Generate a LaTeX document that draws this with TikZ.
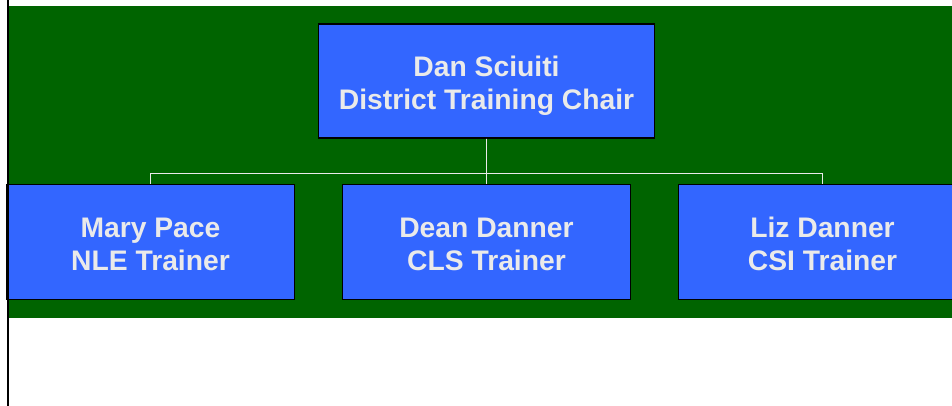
\documentclass[tikz,border=0pt]{standalone}
\usepackage{fontspec}
\setmainfont{Liberation Sans}
\usepackage{xcolor}
\usepackage{tikz}
\usetikzlibrary{positioning}

\definecolor{chartgreen}{HTML}{006400}
\definecolor{boxblue}{HTML}{3366FF}
\definecolor{boxtext}{HTML}{EAEAEA}

% extra head room on the first text line
\newcommand{\headroom}[1]{\rule{0pt}{#1}}

\begin{document}
\begin{tikzpicture}[
    x=0.75pt, y=0.75pt,
    every node/.style={draw=black, line width=1.1pt, fill=boxblue, text=boxtext, align=center,
      font=\fontsize{21.2}{25}\selectfont\bfseries},
    chairbox/.style={minimum width=252pt, minimum height=85.5pt},
    trainerbox/.style={minimum width=216pt, minimum height=86.25pt},
    level 1/.style={sibling distance=252pt},
    level distance=120.75pt,
    edge from parent/.style={draw=boxtext, line width=1pt},
    edge from parent path={(\tikzparentnode.south) -- ++(0,-34.5) -| (\tikzchildnode.north)}
  ]
  \useasboundingbox (0,0) rectangle (952,-406);
  \clip (0,0) rectangle (952,-406);

  % backdrop
  \fill[chartgreen] (9,-6) rectangle (952,-318);

  \node[chairbox] (chair) at (486.5,-81) {\headroom{22pt}Dan Sciuiti\\District Training Chair}
    child {node[trainerbox] (mary) {\headroom{18.5pt}Mary Pace\\NLE Trainer}}
    child {node[trainerbox] (dean) {\headroom{18.5pt}Dean Danner\\CLS Trainer}}
    child {node[trainerbox] (liz) {\headroom{18.5pt}Liz Danner\\CSI Trainer}};

  % left rule on top of everything
  \draw[black, line width=1.6pt] (8,0) -- (8,-406);
\end{tikzpicture}
\end{document}
